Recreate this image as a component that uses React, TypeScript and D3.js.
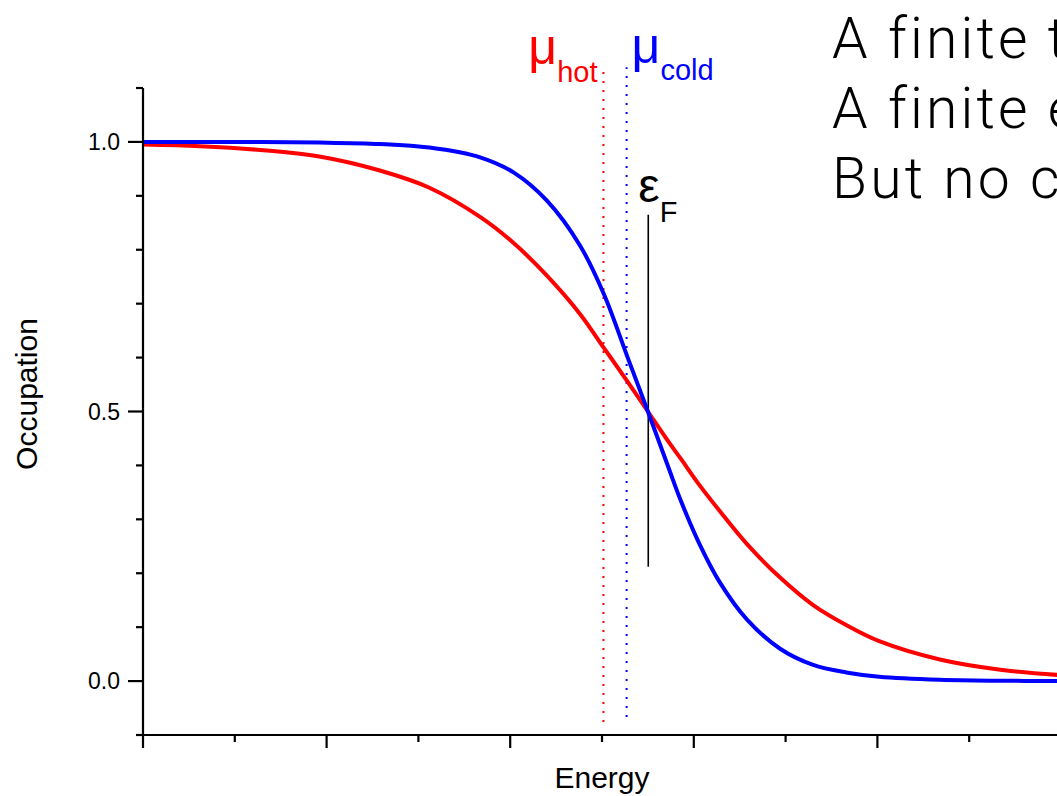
import React from "react";
import * as d3 from "d3";

// ---- data ----
const energy = [0, 0.31, 0.64, 0.96, 1.29, 1.56, 1.84, 2.02, 2.2, 2.38, 2.51, 2.64, 2.75, 2.86, 2.93, 3.03, 3.14, 3.29, 3.47, 3.65, 3.83, 4.01, 4.34, 4.67, 5.0];
const occupationHot = [0.995, 0.992, 0.985, 0.973, 0.947, 0.915, 0.86, 0.812, 0.752, 0.681, 0.618, 0.555, 0.5, 0.445, 0.412, 0.364, 0.316, 0.254, 0.192, 0.141, 0.104, 0.074, 0.04, 0.021, 0.011];
const occupationCold = [1.0, 0.9999, 0.9997, 0.9989, 0.9962, 0.9895, 0.971, 0.943, 0.891, 0.808, 0.718, 0.6, 0.5, 0.398, 0.334, 0.255, 0.184, 0.114, 0.06, 0.03, 0.016, 0.008, 0.0023, 0.0006, 0.0002];

const muHot = 2.508;
const muCold = 2.634;
const fermiEnergy = 2.752;
const fermiLineRange = [0.212, 0.865];
const muLineRange = [-0.076, 1.133];

const yMajorTicks = [0, 0.5, 1.0];
const yMinorTicks = [-0.1, 0.1, 0.2, 0.3, 0.4, 0.6, 0.7, 0.8, 0.9, 1.1];
const xMajorTicks = [0, 1, 2, 3, 4, 5];
const xMinorTicks = [0.5, 1.5, 2.5, 3.5, 4.5];

const noteLines = [
  "A finite temperature difference",
  "A finite electrochemical potential difference",
  "But no current",
];

const W = 1057;
const H = 796;

export default function App() {
  const x = d3.scaleLinear().domain([0, 5]).range([143, 1061]);
  const y = d3.scaleLinear().domain([-0.1, 1.1]).range([735, 88]);

  const line = d3
    .line<number>()
    .x((_, i) => x(energy[i]))
    .y((d) => y(d))
    .curve(d3.curveCatmullRom.alpha(0.5));

  const font = "'Liberation Sans', Arial, sans-serif";

  return (
    <svg
      width={W}
      height={H}
      viewBox={`0 0 ${W} ${H}`}
      style={{ position: "absolute", left: 0, top: 0, display: "block", background: "#fff" }}
      fontFamily={font}
    >
      <rect x={0} y={0} width={W} height={H} fill="#fff" />

      {/* dotted mu lines */}
      <line
        x1={x(muHot)}
        x2={x(muHot)}
        y1={y(muLineRange[0])}
        y2={y(muLineRange[1])}
        stroke="#ff0000"
        strokeWidth={2}
        strokeDasharray="2 7"
      />
      <line
        x1={x(muCold)}
        x2={x(muCold)}
        y1={y(muLineRange[0]) - 5}
        y2={y(muLineRange[1]) - 3}
        stroke="#0000ff"
        strokeWidth={2}
        strokeDasharray="2 7"
      />
      {/* Fermi energy line */}
      <line
        x1={x(fermiEnergy)}
        x2={x(fermiEnergy)}
        y1={y(fermiLineRange[0])}
        y2={y(fermiLineRange[1])}
        stroke="#000"
        strokeWidth={1.6}
      />

      {/* curves */}
      <path d={line(occupationHot) || ""} fill="none" stroke="#ff0000" strokeWidth={4} />
      <path d={line(occupationCold) || ""} fill="none" stroke="#0000ff" strokeWidth={4} />

      {/* axes */}
      <line x1={x(0)} x2={x(0)} y1={y(-0.1)} y2={y(1.1)} stroke="#000" strokeWidth={2.2} />
      <line x1={x(0) - 1} x2={W + 10} y1={y(-0.1)} y2={y(-0.1)} stroke="#000" strokeWidth={2.2} />
      {yMajorTicks.map((t) => (
        <g key={"ym" + t}>
          <line x1={x(0) - 15} x2={x(0)} y1={y(t)} y2={y(t)} stroke="#000" strokeWidth={2.2} />
          <text x={x(0) - 23} y={y(t)} dy="0.36em" textAnchor="end" fontSize={23} fill="#000">
            {d3.format(".1f")(t)}
          </text>
        </g>
      ))}
      {yMinorTicks.map((t) => (
        <line key={"yn" + t} x1={x(0) - 7} x2={x(0)} y1={y(t)} y2={y(t)} stroke="#000" strokeWidth={2.2} />
      ))}
      {xMajorTicks.map((t) => (
        <line key={"xm" + t} x1={x(t)} x2={x(t)} y1={y(-0.1)} y2={y(-0.1) + 13} stroke="#000" strokeWidth={2.2} />
      ))}
      {xMinorTicks.map((t) => (
        <line key={"xn" + t} x1={x(t)} x2={x(t)} y1={y(-0.1)} y2={y(-0.1) + 7} stroke="#000" strokeWidth={2.2} />
      ))}

      {/* axis titles */}
      <text x={602} y={788} textAnchor="middle" fontSize={30} fill="#000">
        Energy
      </text>
      <text
        transform={`translate(37,394) rotate(-90)`}
        textAnchor="middle"
        fontSize={30}
        fill="#000"
      >
        Occupation
      </text>

      {/* symbol labels */}
      <text x={x(muHot) - 6} y={64} textAnchor="end" fill="#ff0000">
        <tspan fontSize={50}>μ</tspan>
        <tspan fontSize={29} dy={18}>hot</tspan>
      </text>
      <text x={x(muCold) + 5} y={63} textAnchor="start" fill="#0000ff">
        <tspan fontSize={50}>μ</tspan>
        <tspan fontSize={29} dy={17}>cold</tspan>
      </text>
      <text x={x(fermiEnergy) - 10} y={202} textAnchor="start" fill="#000">
        <tspan fontSize={48}>ε</tspan>
        <tspan fontSize={29} dy={20}>F</tspan>
      </text>

      {/* note */}
      {noteLines.map((s, i) => (
        <text
          key={s}
          x={832}
          y={58 + i * 70}
          fontSize={57}
          fontFamily="Roboto, 'Open Sans', 'Liberation Sans', sans-serif"
          fontWeight={300}
          letterSpacing={3.2}
          fill="#000"
        >
          {s}
        </text>
      ))}
    </svg>
  );
}
